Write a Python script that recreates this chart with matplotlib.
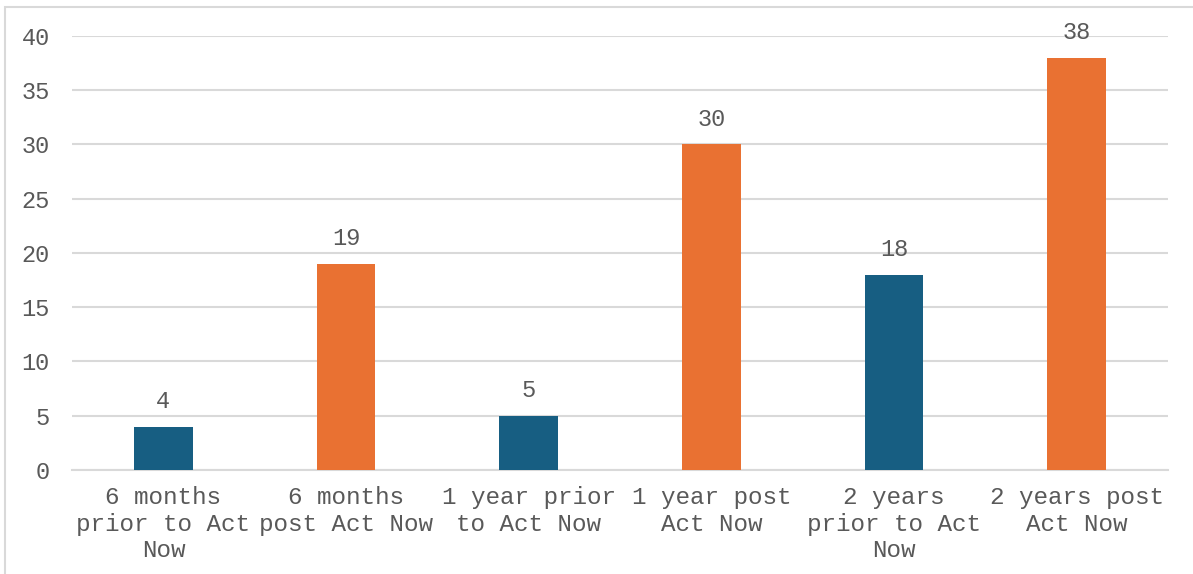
#Recreate bar chart: counts before/after Act Now

import numpy as np
from matplotlib import pyplot as plt
from matplotlib.patches import Rectangle

categories = ["6 months\nprior to Act\nNow", "6 months\npost Act Now", "1 year prior\nto Act Now",
              "1 year post\nAct Now", "2 years\nprior to Act\nNow", "2 years post\nAct Now"]
values = [4, 19, 5, 30, 18, 38]
bar_colors = ["#175E82", "#E97132", "#175E82", "#E97132", "#175E82", "#E97132"]
yticks = [0, 5, 10, 15, 20, 25, 30, 35, 40]

text_color = "#595959"
grid_color = "#D9D9D9"
font = "Liberation Mono"

fig = plt.figure(figsize=(11.93, 5.74), dpi=100)
ax = fig.add_axes([0.0604, 0.1812, 0.9186, 0.7561])

# outer chart frame
fig.patches.append(Rectangle((4.5 / 1193, -0.1), 1.2, 1 - 7 / 574 + 0.1, transform=fig.transFigure,
                             fill=False, edgecolor=grid_color, linewidth=1.5))

x = np.arange(len(categories))
bars = ax.bar(x, values, width=0.32, color=bar_colors, zorder=3)

for rect, v in zip(bars, values):
    ax.annotate(str(v), (rect.get_x() + rect.get_width() / 2, v), xytext=(0, 10),
                textcoords="offset points", ha="center", va="bottom",
                fontsize=17, family=font, color=text_color)

ax.set_xlim(-0.5, len(categories) - 0.5)
ax.set_ylim(0, 40)
ax.set_yticks(yticks)
ax.set_xticks(x)
ax.set_xticklabels(categories, fontsize=17.5, family=font, color=text_color, linespacing=1.2)
for lab in ax.get_yticklabels():
    lab.set_fontsize(17)
    lab.set_family(font)
    lab.set_color(text_color)

ax.tick_params(axis="x", length=0, pad=11.5)
ax.tick_params(axis="y", length=0, pad=16)
ax.grid(axis="y", color=grid_color, linewidth=1.5, zorder=0)
for side in ["top", "right", "left"]:
    ax.spines[side].set_visible(False)
ax.spines["bottom"].set_color(grid_color)
ax.spines["bottom"].set_linewidth(1.5)

plt.savefig("out.png", dpi=100)
